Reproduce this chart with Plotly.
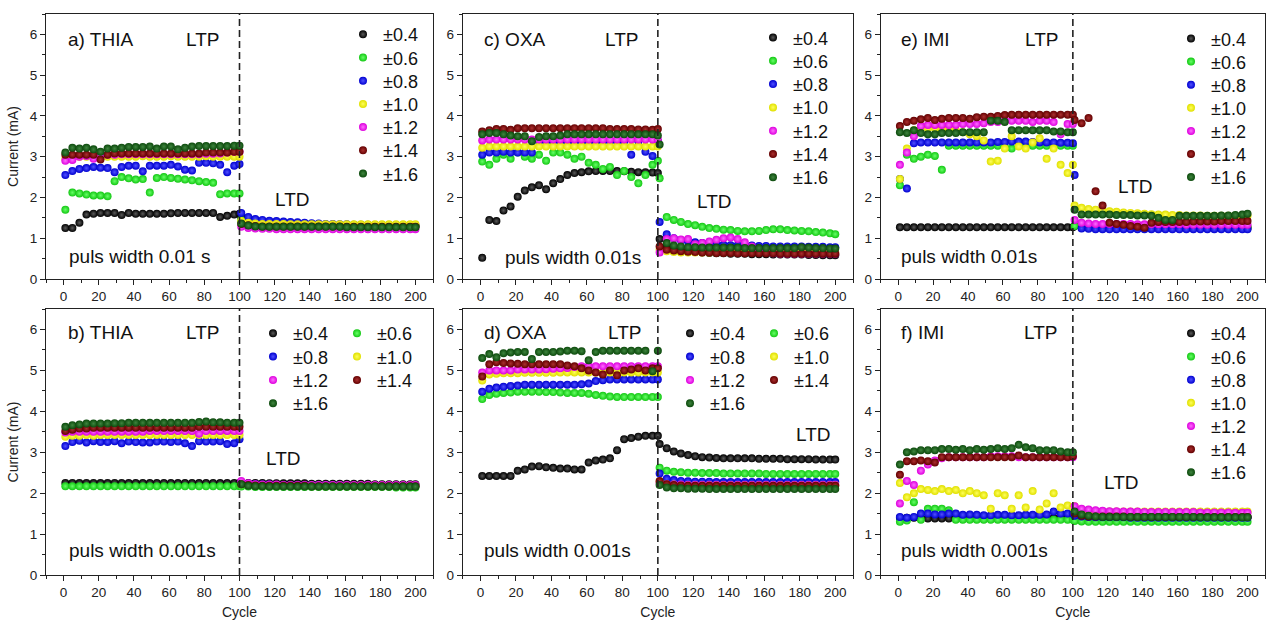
import plotly.graph_objects as go

# ---------------- data ----------------
CYCLES = [1, 5, 9, 13, 17, 21, 25, 29, 33, 37, 41, 45, 49, 53, 57, 61, 65, 69, 73, 77, 81, 85, 89, 93, 97, 100,
          101, 105, 109, 113, 117, 121, 125, 129, 133, 137, 141, 145, 149, 153, 157, 161, 165, 169, 173, 177, 181, 185, 189, 193, 197, 200]

VOLTAGES = ["±0.4", "±0.6", "±0.8", "±1.0", "±1.2", "±1.4", "±1.6"]

# a) THIA, puls width 0.01 s
A_04 = [1.25, 1.25, 1.38, 1.58, 1.60, 1.62, 1.62, 1.62, 1.57, 1.62, 1.60, 1.60, 1.60, 1.60, 1.60, 1.61, 1.62, 1.62, 1.62, 1.62, 1.62, 1.62, 1.52, 1.55, 1.58, 1.60,
        1.52, 1.45, 1.40, 1.37, 1.35, 1.34, 1.33, 1.32, 1.32, 1.31, 1.31, 1.30, 1.30, 1.30, 1.30, 1.30, 1.30, 1.30, 1.30, 1.30, 1.30, 1.30, 1.30, 1.30, 1.30, 1.30]
A_06 = [1.70, 2.12, 2.10, 2.07, 2.05, 2.05, 2.03, 2.40, 2.50, 2.47, 2.44, 2.45, 2.12, 2.48, 2.50, 2.48, 2.46, 2.44, 2.42, 2.40, 2.38, 2.36, 2.08, 2.10, 2.10, 2.10,
        1.45, 1.40, 1.36, 1.34, 1.33, 1.32, 1.31, 1.30, 1.30, 1.30, 1.30, 1.30, 1.30, 1.29, 1.29, 1.29, 1.29, 1.29, 1.29, 1.29, 1.29, 1.29, 1.29, 1.29, 1.29, 1.29]
A_08 = [2.55, 2.65, 2.70, 2.72, 2.75, 2.73, 2.72, 2.62, 2.75, 2.78, 2.78, 2.64, 2.78, 2.78, 2.78, 2.80, 2.76, 2.68, 2.66, 2.85, 2.85, 2.84, 2.80, 2.62, 2.78, 2.82,
        1.62, 1.52, 1.47, 1.45, 1.43, 1.42, 1.41, 1.40, 1.39, 1.38, 1.37, 1.36, 1.35, 1.35, 1.34, 1.34, 1.33, 1.33, 1.33, 1.32, 1.32, 1.32, 1.32, 1.32, 1.32, 1.32]
A_10 = [2.95, 2.98, 3.00, 3.00, 3.00, 3.00, 3.00, 3.00, 3.00, 3.00, 3.00, 3.01, 3.00, 3.00, 3.00, 3.01, 3.00, 3.00, 3.00, 3.00, 3.01, 3.00, 3.00, 3.00, 3.00, 3.00,
        1.42, 1.38, 1.36, 1.35, 1.35, 1.35, 1.35, 1.34, 1.34, 1.34, 1.34, 1.34, 1.34, 1.34, 1.34, 1.34, 1.34, 1.34, 1.34, 1.34, 1.34, 1.34, 1.34, 1.34, 1.34, 1.34]
A_12 = [2.90, 2.92, 3.00, 3.02, 2.95, 3.05, 3.05, 3.05, 3.06, 3.06, 3.06, 3.06, 3.06, 3.06, 3.06, 3.06, 3.06, 3.06, 3.06, 3.06, 3.07, 3.07, 3.08, 3.10, 3.12, 3.12,
        1.28, 1.25, 1.24, 1.23, 1.23, 1.22, 1.22, 1.22, 1.22, 1.22, 1.22, 1.22, 1.22, 1.22, 1.22, 1.22, 1.22, 1.22, 1.22, 1.22, 1.22, 1.22, 1.22, 1.22, 1.22, 1.22]
A_14 = [3.05, 3.05, 3.05, 3.05, 3.05, 2.93, 3.05, 3.08, 3.08, 3.08, 3.08, 3.08, 3.08, 3.08, 3.08, 3.08, 3.08, 3.08, 3.08, 3.08, 3.10, 3.10, 3.10, 3.10, 3.12, 3.12,
        1.35, 1.32, 1.30, 1.29, 1.29, 1.29, 1.29, 1.29, 1.29, 1.29, 1.29, 1.29, 1.29, 1.29, 1.29, 1.28, 1.28, 1.28, 1.28, 1.28, 1.28, 1.28, 1.28, 1.28, 1.28, 1.28]
A_16 = [3.10, 3.22, 3.20, 3.22, 3.18, 3.12, 3.20, 3.20, 3.22, 3.24, 3.24, 3.24, 3.25, 3.20, 3.25, 3.25, 3.18, 3.22, 3.25, 3.26, 3.26, 3.26, 3.26, 3.26, 3.27, 3.27,
        1.36, 1.31, 1.29, 1.28, 1.28, 1.28, 1.28, 1.28, 1.28, 1.28, 1.28, 1.28, 1.28, 1.28, 1.28, 1.27, 1.27, 1.27, 1.27, 1.27, 1.27, 1.27, 1.27, 1.27, 1.27, 1.27]

# c) OXA, puls width 0.01 s
C_04 = [0.52, 1.45, 1.42, 1.68, 1.78, 2.02, 2.17, 2.25, 2.30, 2.20, 2.35, 2.45, 2.55, 2.60, 2.62, 2.64, 2.65, 2.65, 2.65, 2.65, 2.64, 2.63, 2.62, 2.62, 2.61, 2.60,
        0.98, 0.80, 0.72, 0.70, 0.68, 0.66, 0.65, 0.64, 0.63, 0.63, 0.62, 0.62, 0.62, 0.61, 0.61, 0.61, 0.60, 0.60, 0.60, 0.60, 0.60, 0.59, 0.59, 0.58, 0.58, 0.58]
C_06 = [2.88, 2.80, 2.95, 3.05, 2.95, 3.10, 3.00, 2.95, 3.05, 2.90, 3.10, 3.10, 3.05, 2.95, 3.00, 2.85, 2.80, 2.70, 2.75, 2.55, 2.65, 2.50, 2.35, 2.55, 2.80, 2.90,
        2.47, 1.52, 1.45, 1.40, 1.35, 1.32, 1.28, 1.25, 1.23, 1.21, 1.20, 1.18, 1.17, 1.17, 1.18, 1.20, 1.22, 1.22, 1.20, 1.19, 1.18, 1.17, 1.15, 1.14, 1.12, 1.10]
C_08 = [3.05, 3.10, 3.10, 3.12, 3.10, 3.10, 3.10, 3.10, 3.38, 3.38, 3.38, 3.38, 3.38, 3.38, 3.38, 3.38, 3.38, 3.38, 3.38, 3.38, 3.38, 3.05, 3.38, 3.12, 3.02, 3.38,
        1.40, 1.10, 1.00, 0.95, 0.92, 0.90, 0.88, 0.86, 0.85, 0.84, 0.83, 0.83, 0.82, 0.82, 0.81, 0.81, 0.80, 0.80, 0.80, 0.80, 0.80, 0.79, 0.79, 0.79, 0.78, 0.78]
C_10 = [3.22, 3.25, 3.25, 3.25, 3.25, 3.25, 3.25, 3.25, 3.25, 3.25, 3.25, 3.25, 3.25, 3.25, 3.25, 3.25, 3.25, 3.25, 3.25, 3.25, 3.25, 3.25, 3.25, 3.25, 3.25, 3.25,
        0.72, 0.68, 0.66, 0.65, 0.65, 0.65, 0.65, 0.65, 0.65, 0.65, 0.65, 0.65, 0.65, 0.65, 0.65, 0.65, 0.65, 0.65, 0.65, 0.65, 0.65, 0.65, 0.65, 0.65, 0.65, 0.65]
C_12 = [3.40, 3.42, 3.42, 3.42, 3.42, 3.42, 3.42, 3.42, 3.42, 3.42, 3.42, 3.42, 3.42, 3.42, 3.42, 3.42, 3.42, 3.42, 3.42, 3.42, 3.42, 3.42, 3.42, 3.42, 3.42, 3.42,
        0.65, 0.98, 1.00, 0.97, 0.98, 0.85, 0.88, 0.92, 0.96, 1.00, 1.02, 0.98, 0.90, 0.80, 0.70, 0.65, 0.63, 0.62, 0.62, 0.62, 0.62, 0.62, 0.62, 0.62, 0.62, 0.62]
C_14 = [3.62, 3.65, 3.68, 3.68, 3.66, 3.70, 3.70, 3.70, 3.70, 3.70, 3.70, 3.70, 3.70, 3.70, 3.70, 3.70, 3.70, 3.70, 3.68, 3.68, 3.68, 3.68, 3.67, 3.67, 3.66, 3.68,
        0.80, 0.72, 0.70, 0.68, 0.67, 0.66, 0.65, 0.65, 0.64, 0.64, 0.64, 0.63, 0.63, 0.63, 0.63, 0.63, 0.63, 0.62, 0.62, 0.62, 0.62, 0.62, 0.62, 0.62, 0.62, 0.62]
C_16 = [3.55, 3.58, 3.58, 3.55, 3.52, 3.50, 3.50, 3.38, 3.48, 3.50, 3.50, 3.52, 3.55, 3.55, 3.55, 3.55, 3.55, 3.55, 3.55, 3.55, 3.55, 3.55, 3.55, 3.55, 3.55, 3.52,
        3.30, 0.88, 0.82, 0.80, 0.78, 0.78, 0.77, 0.77, 0.77, 0.77, 0.77, 0.77, 0.76, 0.76, 0.76, 0.76, 0.76, 0.76, 0.76, 0.76, 0.78, 0.77, 0.76, 0.76, 0.75, 0.75]

# e) IMI, puls width 0.01 s
E_04 = [1.27, 1.27, 1.27, 1.27, 1.27, 1.27, 1.27, 1.27, 1.27, 1.27, 1.27, 1.27, 1.27, 1.27, 1.27, 1.27, 1.27, 1.27, 1.27, 1.27, 1.27, 1.27, 1.27, 1.27, 1.27, 1.27,
        1.30, 1.27, 1.26, 1.26, 1.26, 1.26, 1.26, 1.26, 1.26, 1.26, 1.26, 1.26, 1.26, 1.26, 1.26, 1.26, 1.26, 1.26, 1.26, 1.26, 1.26, 1.26, 1.26, 1.26, 1.26, 1.26]
E_06 = [2.30, 3.05, 2.95, 3.00, 3.05, 3.02, 2.68, 3.27, 3.27, 3.27, 3.27, 3.27, 3.27, 3.27, 3.27, 3.27, 3.20, 3.27, 3.27, 3.27, 3.27, 3.27, 3.27, 3.27, 3.27, 3.27,
        1.30, 1.28, 1.28, 1.28, 1.28, 1.28, 1.28, 1.28, 1.28, 1.28, 1.28, 1.28, 1.28, 1.28, 1.28, 1.28, 1.28, 1.28, 1.28, 1.28, 1.28, 1.28, 1.28, 1.28, 1.28, 1.28]
E_08 = [2.45, 2.22, 3.33, 3.35, 3.35, 3.35, 3.35, 3.35, 3.35, 3.35, 3.35, 3.35, 3.35, 3.35, 3.36, 3.36, 3.37, 3.37, 3.37, 3.36, 3.35, 3.35, 3.35, 3.34, 3.34, 3.33,
        2.55, 1.24, 1.23, 1.22, 1.22, 1.22, 1.22, 1.22, 1.22, 1.22, 1.22, 1.22, 1.22, 1.22, 1.22, 1.22, 1.22, 1.22, 1.22, 1.22, 1.22, 1.22, 1.22, 1.22, 1.22, 1.22]
E_10 = [2.45, 3.20, 3.65, 3.70, 3.70, 3.70, 3.68, 3.68, 3.65, 3.60, 3.55, 3.50, 3.40, 2.88, 2.90, 3.20, 3.50, 3.25, 3.20, 3.35, 3.45, 2.95, 3.20, 2.80, 2.60, 2.80,
        1.80, 1.75, 1.72, 1.70, 1.68, 1.66, 1.65, 1.63, 1.62, 1.61, 1.60, 1.59, 1.58, 1.58, 1.57, 1.57, 1.56, 1.56, 1.56, 1.55, 1.55, 1.55, 1.55, 1.55, 1.55, 1.55]
E_12 = [2.80, 3.10, 3.50, 3.75, 3.78, 3.78, 3.78, 3.78, 3.78, 3.80, 3.80, 3.80, 3.82, 3.85, 3.85, 3.88, 3.88, 3.88, 3.88, 3.85, 3.88, 3.88, 3.85, 3.55, 3.80, 3.80,
        1.45, 1.38, 1.36, 1.35, 1.35, 1.35, 1.35, 1.35, 1.35, 1.34, 1.34, 1.34, 1.34, 1.34, 1.34, 1.34, 1.33, 1.33, 1.33, 1.33, 1.33, 1.33, 1.33, 1.33, 1.33, 1.33]
E_14 = [3.75, 3.85, 3.88, 3.92, 3.95, 3.90, 3.93, 3.95, 3.95, 3.95, 3.93, 3.97, 3.98, 3.98, 4.00, 4.02, 4.03, 4.03, 4.03, 4.03, 4.03, 4.03, 4.03, 4.03, 4.03, 4.03,
        3.90, 3.82, 3.95, 2.15, 1.80, 1.38, 1.35, 1.33, 1.30, 1.28, 1.26, 1.38, 1.40, 1.40, 1.40, 1.40, 1.40, 1.41, 1.41, 1.41, 1.41, 1.42, 1.42, 1.42, 1.42, 1.42]
E_16 = [3.60, 3.58, 3.65, 3.58, 3.55, 3.55, 3.58, 3.58, 3.58, 3.60, 3.60, 3.60, 3.60, 3.88, 3.88, 3.85, 3.65, 3.65, 3.65, 3.65, 3.65, 3.65, 3.62, 3.62, 3.60, 3.60,
        1.70, 1.58, 1.58, 1.58, 1.58, 1.58, 1.57, 1.57, 1.57, 1.56, 1.56, 1.55, 1.50, 1.45, 1.45, 1.55, 1.55, 1.55, 1.55, 1.55, 1.55, 1.56, 1.56, 1.57, 1.58, 1.60]

# b) THIA, puls width 0.001 s
B_04 = [2.25, 2.25, 2.25, 2.25, 2.25, 2.25, 2.25, 2.25, 2.25, 2.25, 2.25, 2.25, 2.25, 2.25, 2.25, 2.25, 2.25, 2.25, 2.25, 2.25, 2.25, 2.25, 2.25, 2.25, 2.25, 2.25,
        2.26, 2.25, 2.25, 2.25, 2.24, 2.24, 2.24, 2.24, 2.24, 2.24, 2.23, 2.23, 2.23, 2.23, 2.23, 2.23, 2.23, 2.23, 2.23, 2.22, 2.22, 2.22, 2.22, 2.22, 2.22, 2.22]
B_06 = [2.17, 2.17, 2.17, 2.17, 2.17, 2.17, 2.17, 2.17, 2.17, 2.17, 2.17, 2.17, 2.17, 2.17, 2.17, 2.17, 2.17, 2.17, 2.17, 2.17, 2.17, 2.17, 2.17, 2.17, 2.17, 2.17,
        2.16, 2.16, 2.15, 2.15, 2.15, 2.15, 2.15, 2.15, 2.15, 2.15, 2.15, 2.15, 2.15, 2.15, 2.15, 2.15, 2.15, 2.15, 2.15, 2.15, 2.15, 2.15, 2.14, 2.14, 2.14, 2.14]
B_08 = [3.15, 3.25, 3.28, 3.24, 3.27, 3.25, 3.25, 3.27, 3.22, 3.26, 3.25, 3.24, 3.24, 3.26, 3.26, 3.25, 3.26, 3.22, 3.15, 3.27, 3.26, 3.26, 3.27, 3.20, 3.22, 3.32,
        2.25, 2.23, 2.22, 2.21, 2.21, 2.20, 2.20, 2.20, 2.20, 2.20, 2.20, 2.20, 2.20, 2.20, 2.20, 2.19, 2.19, 2.19, 2.19, 2.19, 2.19, 2.19, 2.19, 2.19, 2.19, 2.19]
B_10 = [3.38, 3.40, 3.40, 3.42, 3.40, 3.42, 3.42, 3.42, 3.42, 3.42, 3.42, 3.42, 3.42, 3.42, 3.42, 3.42, 3.42, 3.42, 3.42, 3.42, 3.42, 3.42, 3.42, 3.42, 3.42, 3.42,
        2.22, 2.20, 2.20, 2.19, 2.19, 2.19, 2.19, 2.19, 2.19, 2.19, 2.19, 2.19, 2.19, 2.19, 2.19, 2.19, 2.19, 2.19, 2.19, 2.19, 2.19, 2.19, 2.19, 2.19, 2.19, 2.19]
B_12 = [3.48, 3.50, 3.50, 3.50, 3.50, 3.50, 3.50, 3.50, 3.50, 3.50, 3.50, 3.50, 3.52, 3.52, 3.52, 3.52, 3.52, 3.52, 3.52, 3.45, 3.52, 3.52, 3.52, 3.52, 3.52, 3.52,
        2.30, 2.24, 2.22, 2.21, 2.21, 2.21, 2.20, 2.20, 2.20, 2.20, 2.20, 2.20, 2.20, 2.20, 2.20, 2.20, 2.20, 2.20, 2.20, 2.20, 2.20, 2.20, 2.20, 2.20, 2.20, 2.20]
B_14 = [3.52, 3.55, 3.58, 3.58, 3.60, 3.60, 3.60, 3.60, 3.60, 3.60, 3.60, 3.60, 3.60, 3.60, 3.60, 3.60, 3.60, 3.60, 3.60, 3.62, 3.62, 3.62, 3.62, 3.62, 3.62, 3.62,
        2.22, 2.20, 2.19, 2.18, 2.18, 2.18, 2.18, 2.18, 2.18, 2.18, 2.17, 2.17, 2.17, 2.17, 2.17, 2.17, 2.17, 2.17, 2.17, 2.17, 2.17, 2.17, 2.17, 2.17, 2.17, 2.17]
B_16 = [3.62, 3.66, 3.68, 3.70, 3.70, 3.70, 3.70, 3.71, 3.71, 3.72, 3.72, 3.72, 3.72, 3.72, 3.72, 3.72, 3.72, 3.72, 3.72, 3.74, 3.75, 3.73, 3.73, 3.72, 3.72, 3.72,
        2.22, 2.18, 2.17, 2.17, 2.16, 2.16, 2.16, 2.16, 2.16, 2.16, 2.16, 2.16, 2.16, 2.16, 2.16, 2.16, 2.16, 2.16, 2.16, 2.16, 2.16, 2.16, 2.16, 2.16, 2.16, 2.16]

# d) OXA, puls width 0.001 s
D_04 = [2.42, 2.42, 2.42, 2.42, 2.42, 2.55, 2.58, 2.65, 2.66, 2.63, 2.62, 2.60, 2.60, 2.58, 2.58, 2.75, 2.80, 2.82, 2.85, 3.05, 3.32, 3.35, 3.38, 3.40, 3.40, 3.40,
        3.20, 3.10, 3.02, 2.97, 2.93, 2.90, 2.88, 2.87, 2.86, 2.85, 2.85, 2.85, 2.85, 2.85, 2.84, 2.84, 2.84, 2.84, 2.83, 2.83, 2.83, 2.83, 2.82, 2.82, 2.82, 2.82]
D_06 = [4.30, 4.40, 4.43, 4.45, 4.46, 4.48, 4.48, 4.48, 4.48, 4.47, 4.47, 4.46, 4.45, 4.45, 4.45, 4.43, 4.40, 4.38, 4.36, 4.35, 4.35, 4.35, 4.35, 4.35, 4.35, 4.35,
        2.62, 2.55, 2.52, 2.51, 2.50, 2.50, 2.49, 2.49, 2.49, 2.48, 2.48, 2.48, 2.48, 2.48, 2.48, 2.47, 2.47, 2.47, 2.47, 2.47, 2.47, 2.47, 2.47, 2.47, 2.47, 2.47]
D_08 = [4.48, 4.55, 4.58, 4.60, 4.62, 4.63, 4.65, 4.65, 4.65, 4.65, 4.65, 4.65, 4.65, 4.65, 4.66, 4.68, 4.74, 4.76, 4.78, 4.78, 4.78, 4.78, 4.78, 4.78, 4.78, 4.78,
        2.48, 2.35, 2.32, 2.30, 2.29, 2.28, 2.28, 2.28, 2.27, 2.27, 2.27, 2.27, 2.27, 2.27, 2.27, 2.27, 2.27, 2.27, 2.27, 2.27, 2.27, 2.27, 2.27, 2.27, 2.27, 2.27]
D_10 = [4.75, 4.90, 4.92, 4.93, 4.93, 4.93, 4.94, 4.94, 4.94, 4.94, 4.94, 4.95, 4.95, 4.95, 4.95, 4.95, 4.95, 4.95, 4.95, 4.95, 4.95, 4.95, 4.95, 4.95, 4.95, 4.95,
        2.28, 2.22, 2.21, 2.20, 2.20, 2.20, 2.20, 2.20, 2.20, 2.20, 2.20, 2.20, 2.20, 2.20, 2.20, 2.20, 2.20, 2.20, 2.20, 2.20, 2.20, 2.20, 2.20, 2.20, 2.20, 2.20]
D_12 = [4.95, 5.00, 5.00, 5.00, 5.00, 5.02, 5.02, 5.02, 5.02, 5.03, 5.04, 5.05, 5.06, 5.08, 5.10, 5.10, 5.10, 5.10, 5.10, 5.10, 5.10, 5.10, 5.10, 5.10, 5.10, 5.10,
        2.25, 2.22, 2.21, 2.21, 2.20, 2.20, 2.20, 2.20, 2.20, 2.20, 2.20, 2.20, 2.20, 2.20, 2.20, 2.20, 2.20, 2.20, 2.20, 2.20, 2.20, 2.20, 2.20, 2.20, 2.20, 2.20]
D_14 = [4.85, 5.15, 5.20, 5.18, 5.17, 5.16, 5.15, 5.15, 5.15, 5.15, 5.15, 5.15, 5.12, 5.10, 5.05, 5.00, 4.95, 4.90, 5.00, 4.88, 5.00, 5.02, 5.05, 5.00, 5.05, 5.05,
        2.30, 2.22, 2.20, 2.19, 2.18, 2.18, 2.18, 2.18, 2.18, 2.18, 2.18, 2.18, 2.18, 2.18, 2.18, 2.18, 2.18, 2.18, 2.18, 2.18, 2.18, 2.18, 2.18, 2.18, 2.18, 2.18]
D_16 = [5.30, 5.40, 5.32, 5.42, 5.44, 5.45, 5.45, 5.28, 5.45, 5.45, 5.45, 5.46, 5.48, 5.48, 5.47, 5.25, 5.45, 5.48, 5.48, 5.48, 5.48, 5.48, 5.48, 5.48, 4.98, 5.48,
        2.20, 2.14, 2.12, 2.12, 2.11, 2.11, 2.11, 2.10, 2.10, 2.10, 2.10, 2.10, 2.10, 2.10, 2.10, 2.10, 2.10, 2.10, 2.10, 2.10, 2.10, 2.10, 2.10, 2.10, 2.10, 2.10]

# f) IMI, puls width 0.001 s
F_04 = [1.40, 1.40, 1.40, 1.40, 1.38, 1.38, 1.38, 1.38, 1.40, 1.40, 1.40, 1.40, 1.40, 1.40, 1.40, 1.40, 1.40, 1.40, 1.40, 1.40, 1.40, 1.40, 1.40, 1.40, 1.40, 1.40,
        1.45, 1.43, 1.42, 1.42, 1.42, 1.42, 1.42, 1.42, 1.42, 1.42, 1.42, 1.42, 1.42, 1.42, 1.42, 1.42, 1.42, 1.42, 1.42, 1.42, 1.42, 1.42, 1.42, 1.42, 1.42, 1.42]
F_06 = [1.30, 1.33, 1.78, 1.35, 1.62, 1.62, 1.62, 1.58, 1.35, 1.35, 1.35, 1.35, 1.35, 1.35, 1.35, 1.35, 1.35, 1.35, 1.35, 1.35, 1.35, 1.35, 1.35, 1.35, 1.35, 1.35,
        1.32, 1.31, 1.30, 1.30, 1.30, 1.30, 1.30, 1.30, 1.30, 1.30, 1.30, 1.30, 1.30, 1.30, 1.30, 1.30, 1.30, 1.30, 1.30, 1.30, 1.30, 1.30, 1.30, 1.30, 1.30, 1.30]
F_08 = [1.42, 1.40, 1.42, 1.50, 1.50, 1.48, 1.48, 1.50, 1.50, 1.47, 1.48, 1.47, 1.46, 1.46, 1.47, 1.47, 1.46, 1.46, 1.47, 1.47, 1.47, 1.48, 1.55, 1.50, 1.50, 1.50,
        1.45, 1.43, 1.42, 1.41, 1.41, 1.41, 1.41, 1.41, 1.40, 1.40, 1.40, 1.40, 1.40, 1.40, 1.40, 1.40, 1.40, 1.40, 1.40, 1.40, 1.40, 1.40, 1.40, 1.40, 1.40, 1.40]
F_10 = [2.25, 1.90, 2.00, 2.10, 2.08, 2.05, 2.10, 2.05, 2.08, 2.00, 2.05, 2.00, 1.95, 1.62, 2.00, 1.95, 1.62, 1.95, 1.65, 2.05, 1.60, 1.75, 2.00, 1.65, 1.70, 1.65,
        1.68, 1.60, 1.57, 1.56, 1.55, 1.55, 1.55, 1.55, 1.55, 1.55, 1.55, 1.55, 1.55, 1.55, 1.55, 1.55, 1.55, 1.55, 1.55, 1.55, 1.55, 1.55, 1.55, 1.55, 1.55, 1.55]
F_12 = [1.75, 2.30, 2.20, 2.55, 2.70, 2.80, 2.85, 2.88, 2.88, 2.88, 2.88, 2.88, 2.88, 2.90, 2.90, 2.90, 2.90, 2.88, 2.88, 2.88, 2.88, 2.88, 2.88, 2.88, 2.88, 2.88,
        1.68, 1.62, 1.60, 1.58, 1.57, 1.56, 1.56, 1.55, 1.55, 1.55, 1.54, 1.54, 1.54, 1.54, 1.54, 1.54, 1.54, 1.54, 1.53, 1.53, 1.53, 1.53, 1.53, 1.52, 1.52, 1.52]
F_14 = [2.45, 2.78, 2.78, 2.80, 2.78, 2.75, 2.88, 2.88, 2.88, 2.88, 2.88, 2.88, 2.88, 2.88, 2.88, 2.88, 2.88, 2.92, 2.88, 2.88, 2.88, 2.88, 2.88, 2.88, 2.88, 2.90,
        1.50, 1.45, 1.43, 1.43, 1.43, 1.43, 1.43, 1.43, 1.42, 1.42, 1.42, 1.42, 1.42, 1.42, 1.42, 1.42, 1.42, 1.42, 1.42, 1.42, 1.42, 1.42, 1.42, 1.42, 1.42, 1.42]
F_16 = [2.70, 3.00, 3.02, 3.05, 3.05, 3.05, 3.08, 3.08, 3.06, 3.08, 3.05, 3.08, 3.06, 3.08, 3.10, 3.08, 3.10, 3.18, 3.12, 3.10, 3.05, 3.05, 3.05, 3.02, 3.00, 3.00,
        1.55, 1.48, 1.45, 1.43, 1.42, 1.42, 1.42, 1.42, 1.42, 1.42, 1.42, 1.42, 1.42, 1.42, 1.42, 1.42, 1.42, 1.42, 1.41, 1.41, 1.41, 1.41, 1.41, 1.41, 1.41, 1.41]

# ---------------- styling ----------------
FONT = "Liberation Sans, Arial, sans-serif"
EDGE = ["#000000", "#14c814", "#0000d0", "#e0e000", "#dd00dd", "#640000", "#0c4a0c"]
CENTER = ["#5a5a5a", "#66ff66", "#5050ff", "#ffff5a", "#ff6cff", "#aa3030", "#3f853f"]

W, H = 1268, 620
COLS = [(46, 433), (462.7, 853), (880.7, 1265)]
ROWS = [(14, 279), (309, 575)]
XR = [-10, 210]
YR = [0, 6.5]

ONE_COL = lambda sx, y0, dy: [(sx, y0 + k * dy) for k in range(7)]
TWO_COL = lambda sx1, sx2, y0, dy: [(sx1, y0), (sx2, y0), (sx1, y0 + dy), (sx2, y0 + dy),
                                     (sx1, y0 + 2 * dy), (sx2, y0 + 2 * dy), (sx1, y0 + 3 * dy)]

PANELS = [
    dict(series=[A_04, A_06, A_08, A_10, A_12, A_14, A_16], col=0, row=0, tag="a) THIA", tagx=1.5,
         ltp=68.5, ltd=(119, 1.96), puls="puls width 0.01 s", pulsx=1.9, pulsy=0.54,
         leg=ONE_COL(363, 34.3, 23.2)),
    dict(series=[C_04, C_06, C_08, C_10, C_12, C_14, C_16], col=1, row=0, tag="c) OXA", tagx=1.1,
         ltp=69, ltd=(121, 1.89), puls="puls width 0.01s", pulsx=12.5, pulsy=0.52,
         leg=ONE_COL(773, 37.5, 23.3)),
    dict(series=[E_04, E_06, E_08, E_10, E_12, E_14, E_16], col=2, row=0, tag="e) IMI", tagx=0.7,
         ltp=71.5, ltd=(124.8, 2.26), puls="puls width 0.01s", pulsx=0.7, pulsy=0.54,
         leg=ONE_COL(1191, 38.5, 23.1)),
    dict(series=[B_04, B_06, B_08, B_10, B_12, B_14, B_16], col=0, row=1, tag="b) THIA", tagx=1.5,
         ltp=68.5, ltd=(114, 2.84), puls="puls width 0.001s", pulsx=1.9, pulsy=0.59,
         leg=TWO_COL(273, 357, 333.3, 23.3)),
    dict(series=[D_04, D_06, D_08, D_10, D_12, D_14, D_16], col=1, row=1, tag="d) OXA", tagx=1.1,
         ltp=71, ltd=(176.7, 3.43), puls="puls width 0.001s", pulsx=1.1, pulsy=0.59,
         leg=TWO_COL(690, 774, 333.3, 23.3)),
    dict(series=[F_04, F_06, F_08, F_10, F_12, F_14, F_16], col=2, row=1, tag="f) IMI", tagx=0.7,
         ltp=71, ltd=(116.4, 2.25), puls="puls width 0.001s", pulsx=0.7, pulsy=0.59,
         leg=ONE_COL(1191, 333.3, 23.17)),
]

LEG_FONT = 18
ITEM_H = 1.3 * LEG_FONT + 3

fig = go.Figure()
layout = dict(width=W, height=H, margin=dict(l=0, r=0, t=0, b=0),
              paper_bgcolor="white", plot_bgcolor="white", showlegend=True)
annotations = []
shapes = []
legend_count = 0

for pi, p in enumerate(PANELS):
    n = pi + 1
    xs = "" if n == 1 else str(n)
    xname, yname = "x" + xs, "y" + xs
    c0, c1 = COLS[p["col"]]
    r0, r1 = ROWS[p["row"]]
    axis_common = dict(showgrid=False, zeroline=False, showline=True, linecolor="#222", linewidth=1.2,
                       mirror=True, ticks="outside", ticklen=5, tickwidth=1.1, tickcolor="#222",
                       automargin=False,
                       tickfont=dict(family=FONT, size=13.5, color="#222"))
    xa = dict(axis_common, domain=[c0 / W, c1 / W], range=XR, anchor=yname, tick0=0, dtick=20,
              minor=dict(ticks="outside", ticklen=3, dtick=10, tickcolor="#222", tickwidth=1))
    ya = dict(axis_common, domain=[1 - r1 / H, 1 - r0 / H], range=YR, anchor=xname, tick0=0, dtick=1,
              minor=dict(ticks="outside", ticklen=3, dtick=0.5, tickcolor="#222", tickwidth=1))
    if p["row"] == 1:
        xa["title"] = dict(text="Cycle", font=dict(family=FONT, size=14, color="#222"), standoff=8)
    if p["col"] == 0:
        ya["title"] = dict(text="Current (mA)", font=dict(family=FONT, size=14, color="#222"), standoff=7)
    layout["xaxis" + xs] = xa
    layout["yaxis" + xs] = ya

    for si, vals in enumerate(p["series"]):
        if len(vals) != len(CYCLES):
            annotations.append(dict(text="LEN MISMATCH %s %d" % (p["tag"], si), xref="paper", yref="paper",
                                    x=0.5, y=0.5, showarrow=False, font=dict(size=20, color="red")))
        # one legend box per entry, placed where the entry sits in the reference
        legend_count += 1
        lname = "legend" if legend_count == 1 else "legend%d" % legend_count
        sym_x, row_y = p["leg"][si]
        top = row_y - (5 + ITEM_H / 2)
        layout[lname] = dict(x=(sym_x - 20) / W, y=1 - top / H, xanchor="left", yanchor="top",
                             bgcolor="rgba(0,0,0,0)", borderwidth=0,
                             font=dict(family=FONT, size=LEG_FONT, color="#111"),
                             itemclick=False, itemdoubleclick=False)
        fig.add_trace(go.Scatter(
            x=CYCLES, y=vals, mode="markers", name=VOLTAGES[si],
            xaxis=xname, yaxis=yname, legend=lname,
            marker=dict(size=8, color=EDGE[si], line=dict(width=0),
                        gradient=dict(type="radial", color=CENTER[si])),
            hoverinfo="skip"))

    # dashed separator at cycle 100
    shapes.append(dict(type="line", xref=xname, yref=yname + " domain", x0=100, x1=100, y0=0, y1=1,
                       line=dict(color="#222", width=1.6, dash="7px,4px")))

    txt_font = dict(family=FONT, size=19, color="#111")
    ytop = 5.87 if p["row"] == 0 else 5.93
    for text, x, y in [(p["tag"], p["tagx"], ytop), ("LTP", p["ltp"], ytop),
                       ("LTD", p["ltd"][0], p["ltd"][1]), (p["puls"], p["pulsx"], p["pulsy"])]:
        annotations.append(dict(text=text, x=x, y=y, xref=xname, yref=yname, xanchor="left",
                                yanchor="middle", showarrow=False, font=txt_font))

layout["annotations"] = annotations
layout["shapes"] = shapes
fig.update_layout(**layout)
# the page's default 8px body margin would push the 1268x620 figure off the window
fig.write_html("out.html", config={"displayModeBar": False},
               post_script="document.body.style.margin='0px';document.body.style.overflow='hidden';")
